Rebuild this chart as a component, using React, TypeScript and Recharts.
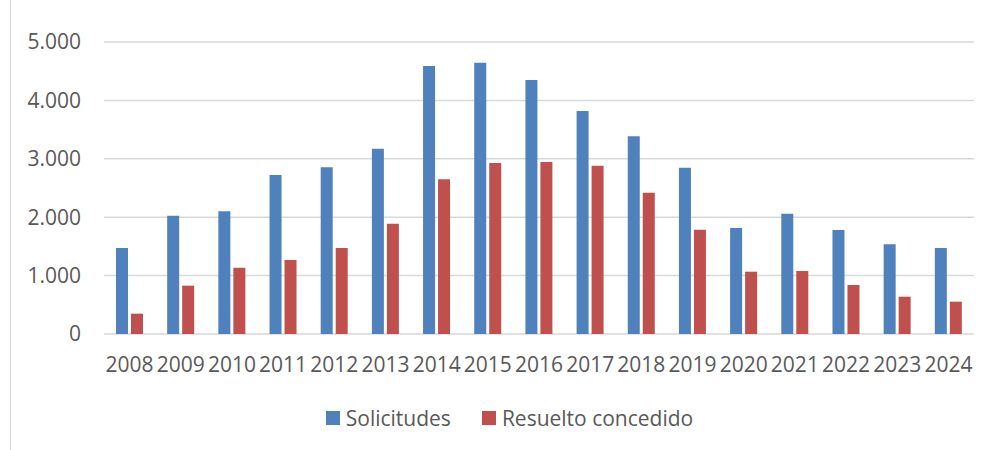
import React from 'react';
import { BarChart, Bar, XAxis, YAxis, CartesianGrid, Legend } from 'recharts';

const years = ['2008','2009','2010','2011','2012','2013','2014','2015','2016','2017','2018','2019','2020','2021','2022','2023','2024'];
const solicitudes = [1473, 2026, 2100, 2723, 2854, 3174, 4589, 4646, 4349, 3818, 3385, 2848, 1815, 2060, 1781, 1535, 1473];
const resuelto = [348, 828, 1136, 1267, 1473, 1889, 2648, 2928, 2945, 2882, 2420, 1787, 1067, 1079, 839, 639, 554];
const yTicks = [0, 1000, 2000, 3000, 4000, 5000];
const seriesOrder = ['solicitudes', 'resuelto'];

const data = years.map((y, i) => ({ year: y, solicitudes: solicitudes[i], resuelto: resuelto[i] }));

const FONT = '"Open Sans", sans-serif';
const TEXT = '#595959';

const fmt = (v: number) => String(v).replace(/\B(?=(\d{3})+(?!\d))/g, '.');

const LegendContent = (props: any) => {
  const payload = [...(props.payload || [])].sort(
    (a: any, b: any) => seriesOrder.indexOf(a.dataKey) - seriesOrder.indexOf(b.dataKey)
  );
  return (
    <div style={{ display: 'flex', justifyContent: 'center', alignItems: 'center', fontFamily: FONT, fontSize: 21, color: TEXT, paddingLeft: 30 }}>
      {payload.map((p: any, i: number) => (
        <div key={i} style={{ display: 'flex', alignItems: 'center', marginLeft: i === 0 ? 0 : 31 }}>
          <span style={{ display: 'inline-block', width: 14, height: 14, background: p.color, marginRight: 6 }} />
          <span>{p.value}</span>
        </div>
      ))}
    </div>
  );
};

export default function App() {
  return (
    <div style={{ position: 'absolute', left: 0, top: 0, width: 989, height: 450, background: '#fff' }}>
      <div style={{ position: 'absolute', left: 10, top: 0, width: 1, height: 450, background: '#d9d9d9' }} />
      <BarChart width={989} height={450} data={data} margin={{ top: 42, right: 15, bottom: 0, left: 0 }} barSize={12} barGap={3}>
        <CartesianGrid vertical={false} stroke="#d9d9d9" strokeWidth={1.5} />
        <XAxis
          dataKey="year"
          height={116}
          axisLine={false}
          tickLine={false}
          tickSize={0}
          tickMargin={23}
          interval={0}
          tick={{ fill: TEXT, fontSize: 21, fontFamily: FONT }}
        />
        <YAxis
          width={104}
          domain={[0, 5000]}
          ticks={yTicks}
          axisLine={false}
          tickLine={false}
          tickSize={0}
          tickMargin={23}
          tickFormatter={fmt}
          tick={{ fill: TEXT, fontSize: 21, fontFamily: FONT }}
        />
        <Legend
          layout="horizontal"
          verticalAlign="middle"
          align="center"
          wrapperStyle={{ top: 404, left: 0, width: 989 }}
          content={<LegendContent />}
        />
        <Bar dataKey="solicitudes" name="Solicitudes" fill="#4F81BD" isAnimationActive={false} />
        <Bar dataKey="resuelto" name="Resuelto concedido" fill="#C0504D" isAnimationActive={false} />
      </BarChart>
    </div>
  );
}
